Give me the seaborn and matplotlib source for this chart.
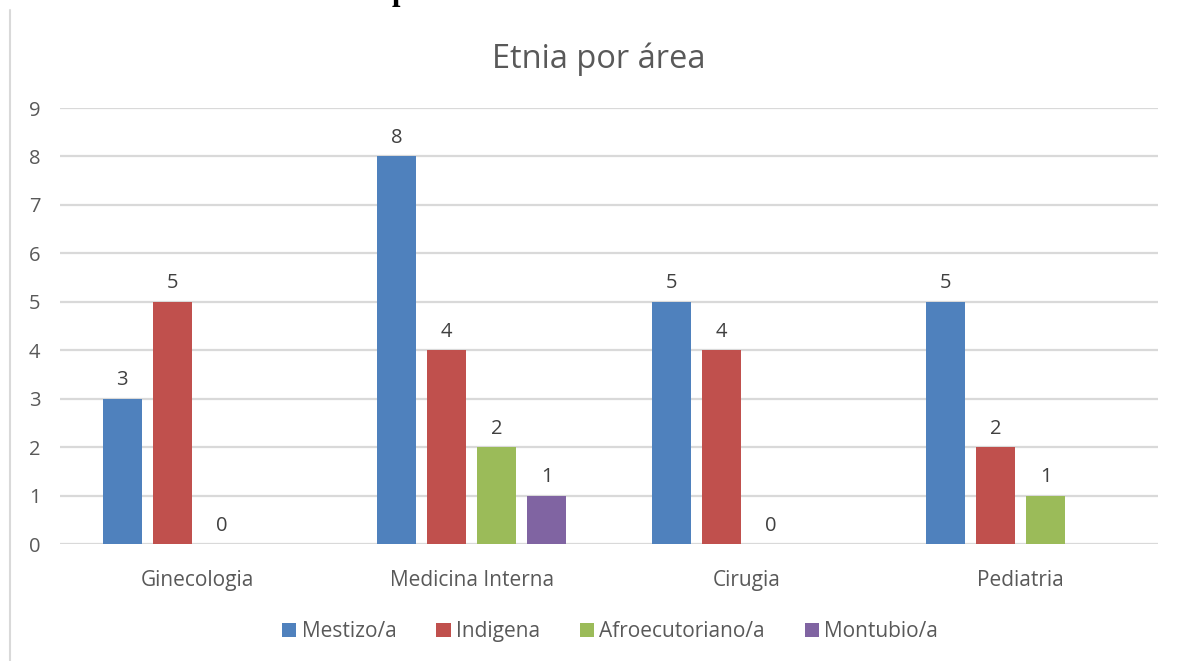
import numpy as np
import pandas as pd
import matplotlib
matplotlib.use("Agg")
import matplotlib.pyplot as plt
from matplotlib.lines import Line2D
import seaborn as sns

# ----- data -----
areas = ["Ginecologia", "Medicina Interna", "Cirugia", "Pediatria"]
etnias = ["Mestizo/a", "Indigena", "Afroecutoriano/a", "Montubio/a"]
mestizo = [3, 8, 5, 5]
indigena = [5, 4, 4, 2]
afro = [0, 2, 0, 1]
montubio = [np.nan, 1, np.nan, np.nan]   # no bar / label in the other areas
yticks = list(range(0, 10))

palette = ["#4F81BD", "#C0504D", "#9BBB59", "#8064A2"]
TEXT = "#595959"
GRID = "#D9D9D9"
FS = 14.5

df = pd.DataFrame({"area": areas * 4,
                   "etnia": np.repeat(etnias, len(areas)),
                   "n": mestizo + indigena + afro + montubio}).dropna()

sns.set_style("white")
plt.rcParams["font.family"] = ["Open Sans", "DejaVu Sans"]

fig = plt.figure(figsize=(11.8, 6.61), dpi=100)
ax = fig.add_axes([0.0508, 0.177, 0.9305, 0.6596])

sns.barplot(data=df, x="area", y="n", hue="etnia", order=areas,
            hue_order=etnias, palette=palette, width=0.73, gap=0.22,
            errorbar=None, saturation=1, linewidth=0, legend=True, ax=ax)

for cont in ax.containers:
    ax.bar_label(cont, fmt="%g", padding=6, fontsize=FS, color="#404040")

ax.set_ylim(0, 9)
ax.set_xlim(-0.5, 3.5)
ax.set_yticks(yticks)
ax.yaxis.grid(True, color=GRID, linewidth=1.6)
ax.set_axisbelow(True)
for s in ax.spines.values():
    s.set_visible(False)
ax.tick_params(axis="y", length=0, pad=14, labelsize=FS, labelcolor=TEXT)
ax.tick_params(axis="x", length=0, pad=19, labelsize=15, labelcolor=TEXT)
ax.set_xlabel("")
ax.set_ylabel("")

handles, labels = ax.get_legend_handles_labels()
ax.get_legend().remove()
fig.legend(handles, labels, loc="center", bbox_to_anchor=(0.517, 0.044),
           ncol=4, frameon=False, fontsize=15, handlelength=0.7,
           handleheight=0.7, handletextpad=0.25, columnspacing=1.9,
           labelcolor=TEXT)

fig.text(0.507, 0.911, "Etnia por área", ha="center", va="center",
         fontsize=23.5, color=TEXT)

# chart frame edge and the clipped heading above it
fig.add_artist(Line2D([0.0085, 0.0085], [0, 0.985], transform=fig.transFigure,
                      color=GRID, linewidth=1.5))
fig.text(0.332, 1.0, "p", ha="left", va="baseline", fontsize=22,
         fontweight="bold", family="Liberation Serif", color="black")

fig.savefig("out.png", dpi=100)
